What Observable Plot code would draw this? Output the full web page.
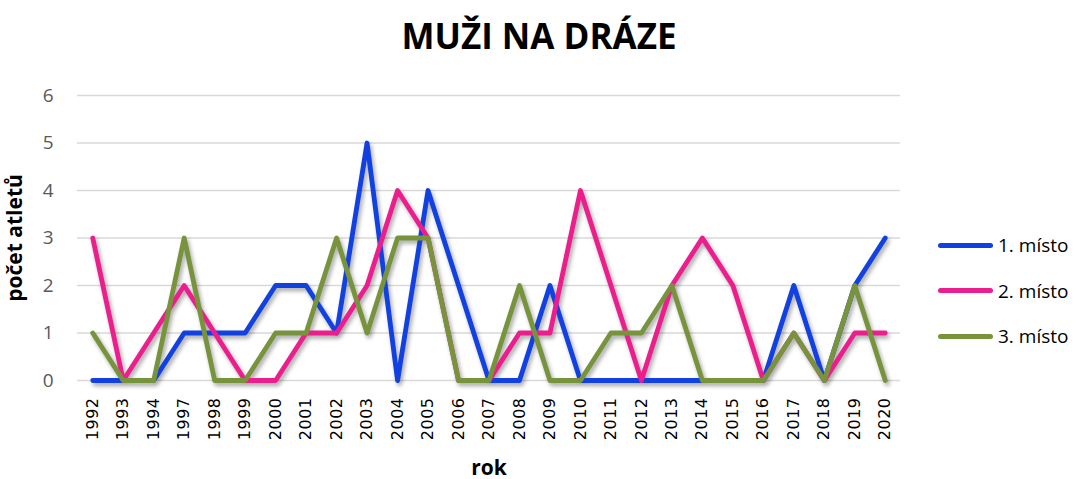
<!DOCTYPE html>
<html>
<head>
<meta charset="utf-8">
<script src="https://cdn.jsdelivr.net/npm/d3@7"></script>
<script src="https://cdn.jsdelivr.net/npm/@observablehq/plot@0.6"></script>
<style>
  html, body { margin: 0; padding: 0; background: #fff; }
  #wrap { width: 1078px; height: 479px; position: relative; overflow: hidden; }
  #title { height: 70px; line-height: 72px; text-align: center; font-family: "Open Sans", sans-serif; font-weight: 700; font-size: 35px; color: #000; }
  #row { display: flex; flex-direction: row; }
  #legend { width: 158px; padding-left: 18px; box-sizing: border-box; font-family: "Open Sans", sans-serif; font-size: 19px; color: #000; }
  .item { display: flex; align-items: center; height: 24px; position: absolute; }
  .sw { width: 55px; height: 5px; border-radius: 3px; margin-right: 5px; }
</style>
</head>
<body>
<div id="wrap">
  <div id="title">MUŽI NA DRÁZE</div>
  <div id="row">
    <div id="chart"></div>
    <div id="legend"></div>
  </div>
</div>
<script>
const years = ["1992","1993","1994","1997","1998","1999","2000","2001","2002","2003","2004","2005","2006","2007","2008","2009","2010","2011","2012","2013","2014","2015","2016","2017","2018","2019","2020"];
const seriesNames = ["1. místo", "2. místo", "3. místo"];
const first  = [0,0,0,1,1,1,2,2,1,5,0,4,2,0,0,2,0,0,0,0,0,0,0,2,0,2,3];
const second = [3,0,1,2,1,0,0,1,1,2,4,3,0,0,1,1,4,2,0,2,3,2,0,1,0,1,1];
const third  = [1,0,0,3,0,0,1,1,3,1,3,3,0,0,2,0,0,1,1,2,0,0,0,1,0,2,0];
const yTicks = [0,1,2,3,4,5,6];
const colors = ["#1141E0", "#EC1E8E", "#77933C"];

const values = [first, second, third];
const data = [];
values.forEach((arr, s) => arr.forEach((v, i) => data.push({year: years[i], value: v, series: seriesNames[s]})));

const chart = Plot.plot({
  width: 920,
  height: 409,
  marginTop: 25,
  marginBottom: 99,
  marginLeft: 77,
  marginRight: 20,
  style: { fontFamily: "'Open Sans', sans-serif", background: "#fff", overflow: "visible" },
  x: { type: "point", domain: years, padding: 0.5, round: false, label: null },
  y: { domain: [0, 6], label: null },
  color: { domain: seriesNames, range: colors },
  marks: [
    Plot.gridY(yTicks, { stroke: "#d9d9d9", strokeOpacity: 1, strokeWidth: 1.5 }),
    Plot.axisY(yTicks, { tickSize: 0, tickPadding: 24, fontSize: 19, fill: "#595959", label: "počet atletů", labelAnchor: "center", labelArrow: "none", labelOffset: 70 }),
    Plot.axisX({ tickSize: 0, tickPadding: 17, tickRotate: -90, fontSize: 16, fill: "#000", fontFamily: "DejaVu Sans", label: "rok", labelAnchor: "center", labelArrow: "none", labelOffset: 94 }),
    Plot.lineY(data, { x: "year", y: "value", z: "series", stroke: "series", strokeWidth: 4.8, strokeLinejoin: "round", strokeLinecap: "round" })
  ]
});
document.getElementById("chart").appendChild(chart);

const svg = d3.select(chart);
svg.selectAll("g[aria-label='y-axis label'] text, g[aria-label='x-axis label'] text")
  .attr("font-weight", 700).attr("fill", "#000").attr("font-size", 21).attr("font-family", "'Open Sans', sans-serif");
svg.selectAll("g[aria-label='x-axis tick label'] text").attr("letter-spacing", "0.5px");
svg.selectAll("g[aria-label='line']").style("filter", "drop-shadow(2px 3px 2px rgba(0,0,0,0.35))");

const legend = d3.select("#legend").style("position", "relative");
seriesNames.forEach((name, i) => {
  const item = legend.append("div").attr("class", "item").style("top", (163 + i * 45.5) + "px");
  item.append("div").attr("class", "sw").style("background", colors[i]);
  item.append("span").text(name);
});
</script>
</body>
</html>
